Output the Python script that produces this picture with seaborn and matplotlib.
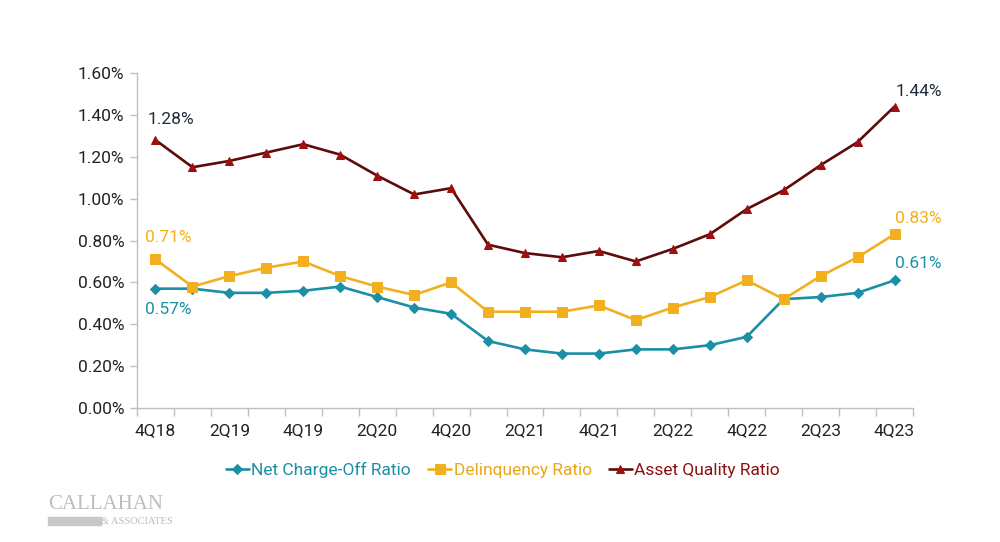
import numpy as np
import pandas as pd
import matplotlib.pyplot as plt
import seaborn as sns
from matplotlib.ticker import FuncFormatter, FixedLocator

quarters = ["4Q18", "1Q19", "2Q19", "3Q19", "4Q19", "1Q20", "2Q20", "3Q20", "4Q20",
            "1Q21", "2Q21", "3Q21", "4Q21", "1Q22", "2Q22", "3Q22", "4Q22",
            "1Q23", "2Q23", "3Q23", "4Q23"]
net_charge_off = [0.57, 0.57, 0.55, 0.55, 0.56, 0.58, 0.53, 0.48, 0.45, 0.32, 0.28,
                  0.26, 0.26, 0.28, 0.28, 0.30, 0.34, 0.52, 0.53, 0.55, 0.61]
delinquency = [0.71, 0.58, 0.63, 0.67, 0.70, 0.63, 0.58, 0.54, 0.60, 0.46, 0.46,
               0.46, 0.49, 0.42, 0.48, 0.53, 0.61, 0.52, 0.63, 0.72, 0.83]
asset_quality = [1.28, 1.15, 1.18, 1.22, 1.26, 1.21, 1.11, 1.02, 1.05, 0.78, 0.74,
                 0.72, 0.75, 0.70, 0.76, 0.83, 0.95, 1.04, 1.16, 1.27, 1.44]

series_names = ["Net Charge-Off Ratio", "Delinquency Ratio", "Asset Quality Ratio"]
line_colors = ["#1B8FA6", "#F2B01E", "#5E0B0B"]
marker_colors = ["#1B8FA6", "#F2B01E", "#A00F0F"]
markers = ["D", "s", "^"]
marker_sizes = [5, 7, 6]

sns.set_theme(style="white")
plt.rcParams["font.family"] = ["Roboto", "DejaVu Sans"]

df = pd.DataFrame({
    "idx": np.tile(np.arange(len(quarters)), 3),
    "value": net_charge_off + delinquency + asset_quality,
    "series": np.repeat(series_names, len(quarters)),
})

fig = plt.figure(figsize=(10, 5.42), dpi=100)
ax = fig.add_axes([0.137, 0.2472, 0.776, 0.6181])

for name, lc, mc, mk, ms in zip(series_names, line_colors, marker_colors, markers, marker_sizes):
    sub = df[df["series"] == name]
    sns.lineplot(data=sub, x="idx", y="value", ax=ax, color=lc, linewidth=1.9,
                 marker=mk, markersize=ms, markerfacecolor=mc, markeredgecolor=mc,
                 label=name, legend=False)

ax.set_xlim(-0.5, len(quarters) - 0.5)
ax.set_ylim(0, 1.6)
ax.set_yticks(np.arange(0, 1.61, 0.2))
ax.yaxis.set_major_formatter(FuncFormatter(lambda v, p: f"{v:.2f}%"))

# labels on every other quarter, tick marks at the category boundaries
label_pos = list(range(0, len(quarters), 2))
ax.set_xticks(label_pos)
ax.set_xticklabels([quarters[i] for i in label_pos])
ax.xaxis.set_minor_locator(FixedLocator(np.arange(-0.5, len(quarters), 1)))
ax.tick_params(axis="x", which="major", length=0, pad=11, labelsize=12.5, colors="#222222")
ax.tick_params(axis="x", which="minor", length=6, width=1, color="#BFBFBF", direction="out", bottom=True)
ax.tick_params(axis="y", length=5, width=1, color="#BFBFBF", direction="out", left=True,
               labelsize=12.5, colors="#222222", pad=4)
ax.set_xlabel("")
ax.set_ylabel("")

sns.despine(ax=ax, top=True, right=True)
for sp in ["left", "bottom"]:
    ax.spines[sp].set_color("#BFBFBF")
    ax.spines[sp].set_linewidth(1)

# end point labels
last = len(quarters) - 1
label_specs = [
    (0, asset_quality[0], (15, 21), "#1F2A3A"),
    (0, delinquency[0], (13, 22), line_colors[1]),
    (0, net_charge_off[0], (13, -21), line_colors[0]),
    (last, asset_quality[last], (24, 15), "#1F2A3A"),
    (last, delinquency[last], (24, 16), line_colors[1]),
    (last, net_charge_off[last], (24, 17), line_colors[0]),
]
for x, v, off, c in label_specs:
    ax.annotate(f"{v:.2f}%", (x, v), xytext=off, textcoords="offset pixels",
                ha="center", va="center", fontsize=12.5, color=c, annotation_clip=False)

handles, labels = ax.get_legend_handles_labels()
leg = fig.legend(handles, labels, loc="center", bbox_to_anchor=(0.503, 0.133), ncol=3,
                 frameon=False, fontsize=12.5, handlelength=1.3, handletextpad=0.15,
                 columnspacing=1.0)
for txt, c in zip(leg.get_texts(), ["#1B8FA6", "#E8A817", "#8B1010"]):
    txt.set_color(c)

# logo
fig.text(0.048, 0.052, "CALLAHAN", fontsize=15, color="#BDBDBD", family="Liberation Serif",
         ha="left", va="bottom")
fig.text(0.101, 0.030, "& ASSOCIATES", fontsize=7.5, color="#BDBDBD", family="Liberation Serif",
         ha="left", va="bottom")
fig.patches.append(plt.Rectangle((0.048, 0.032), 0.053, 0.014, transform=fig.transFigure,
                                 color="#C8C8C8", zorder=0))

fig.savefig("out.png", dpi=100)
